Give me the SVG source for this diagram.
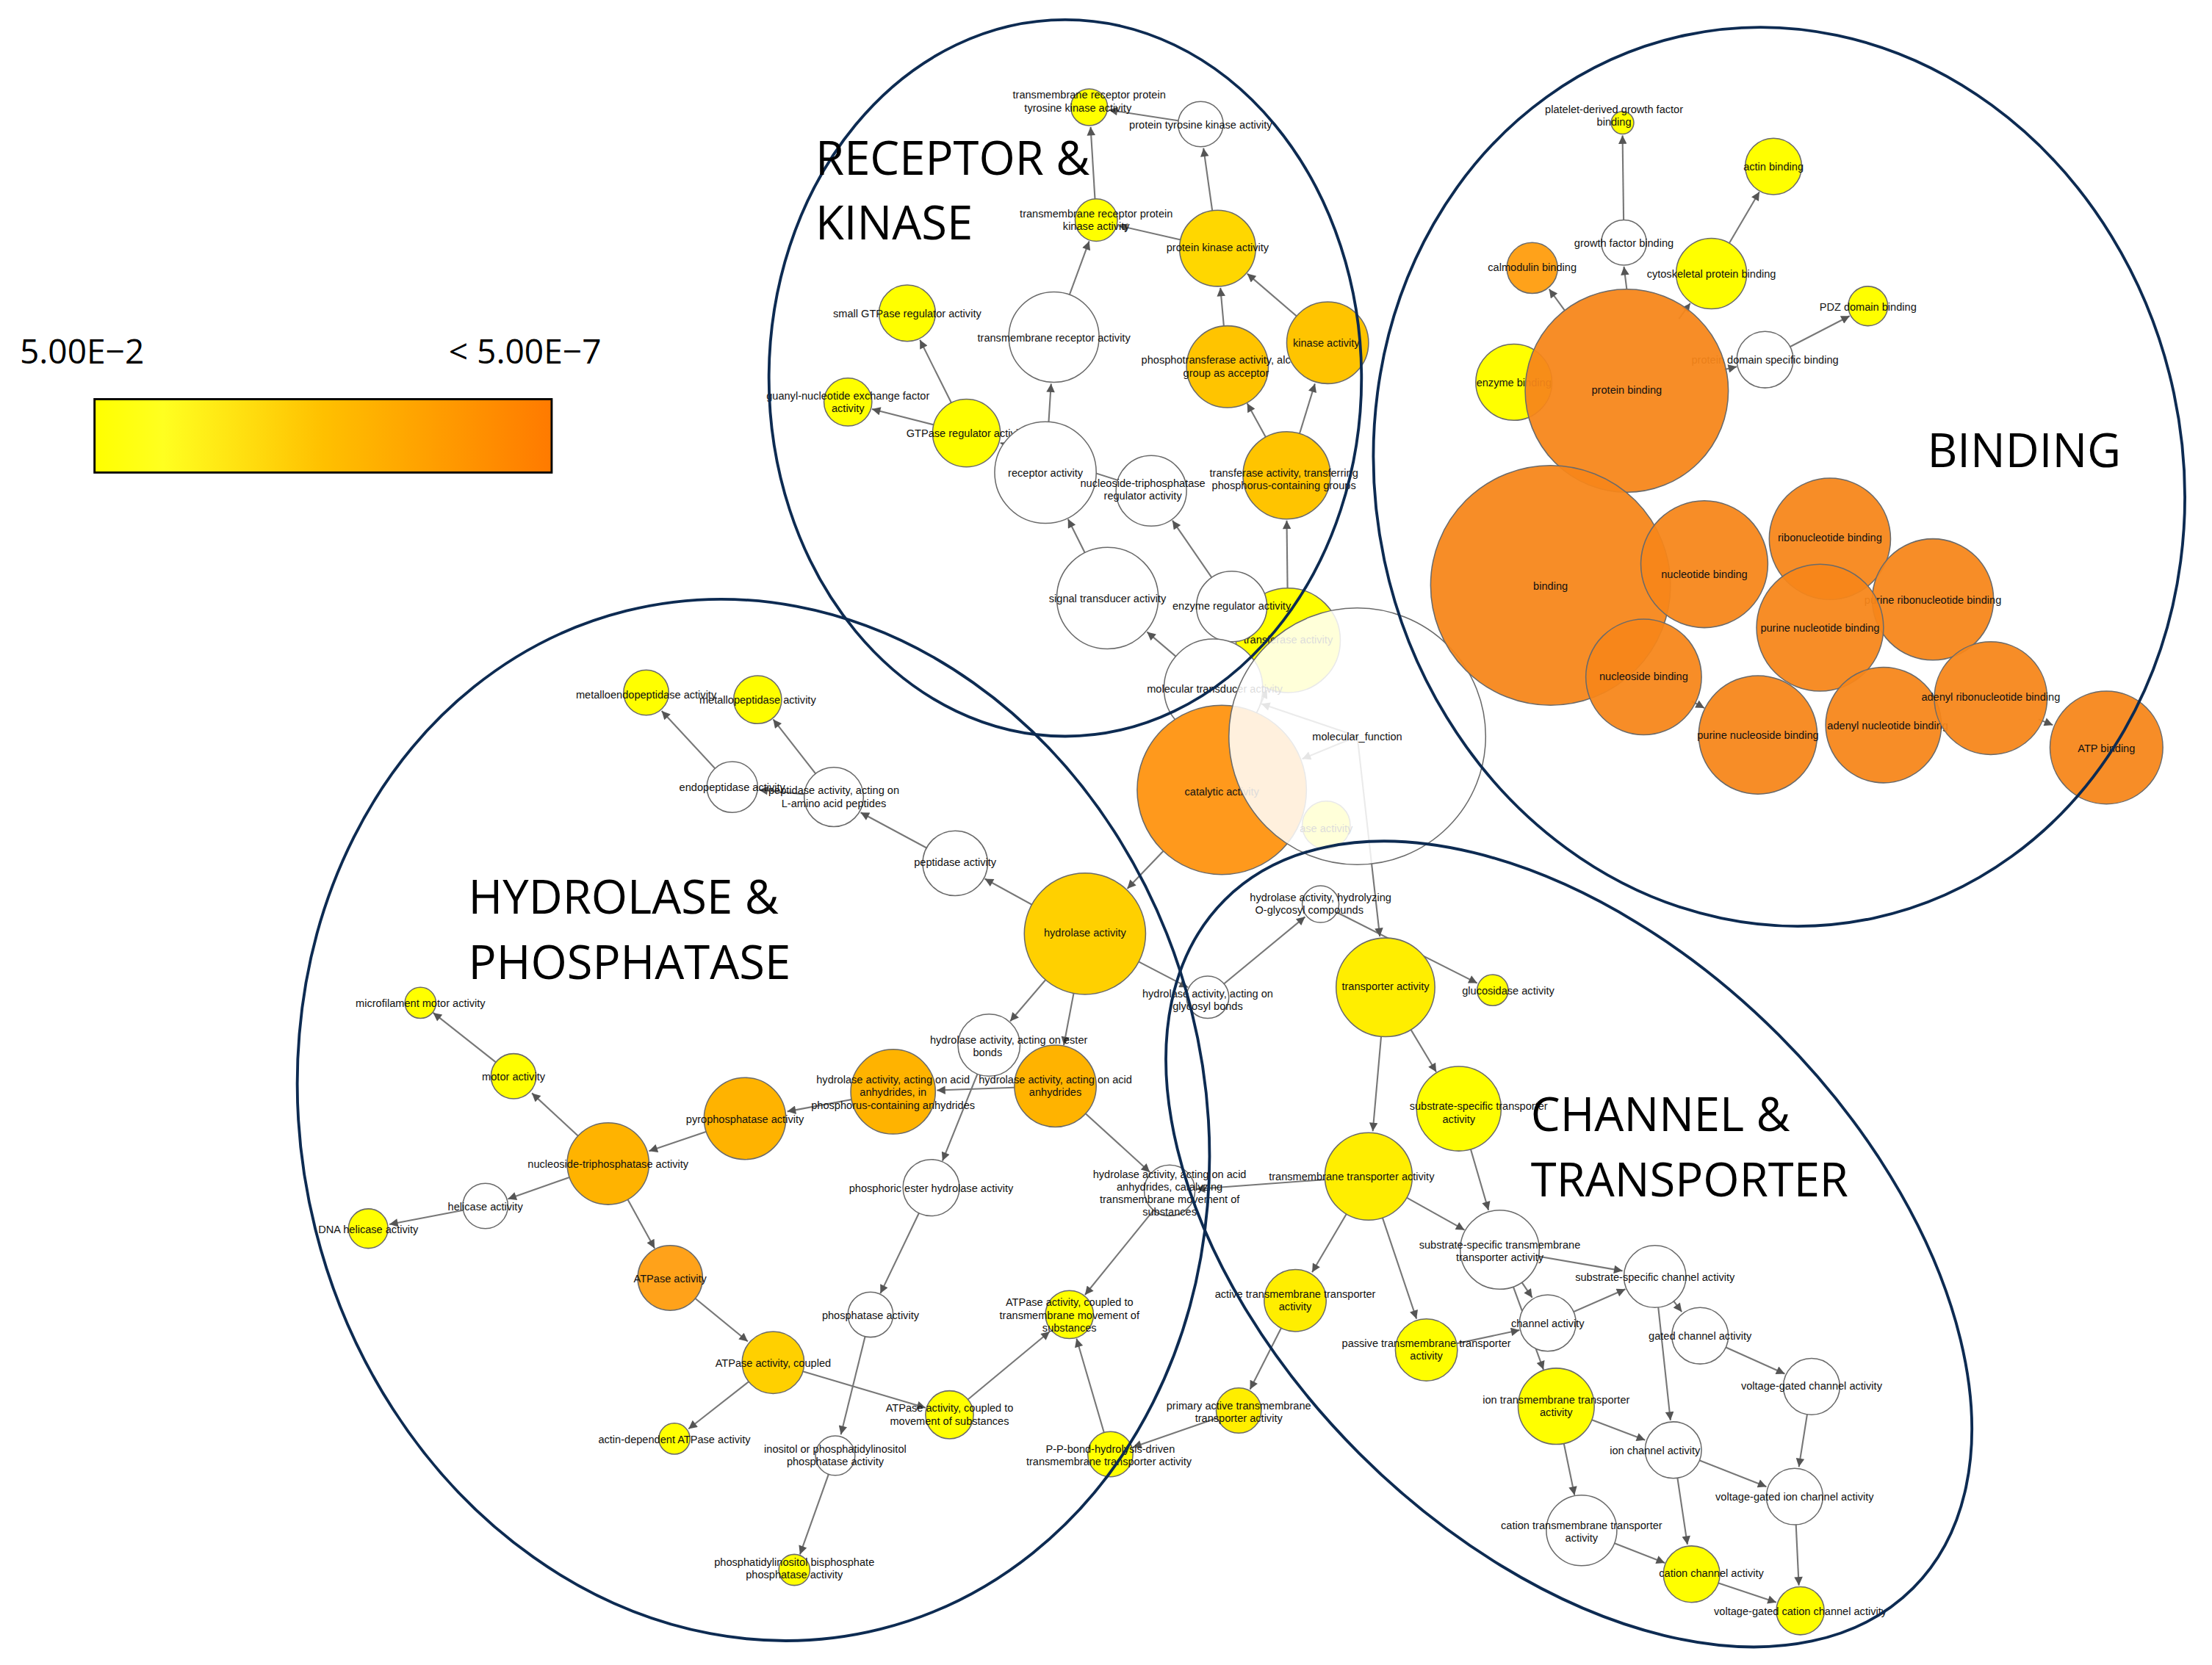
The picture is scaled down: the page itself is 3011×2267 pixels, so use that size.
<svg xmlns="http://www.w3.org/2000/svg" width="3011" height="2267" viewBox="0 0 3011 2267">
<defs>
<linearGradient id="lg" x1="0" x2="1" y1="0" y2="0"><stop offset="0" stop-color="#ffff00"/><stop offset="0.15" stop-color="#ffff20"/><stop offset="0.5" stop-color="#ffc000"/><stop offset="1" stop-color="#ff7a00"/></linearGradient>
<marker id="ar" viewBox="0 0 10 10" refX="10" refY="5" markerUnits="userSpaceOnUse" markerWidth="8" markerHeight="6" orient="auto"><path d="M0,0L10,5L0,10z" fill="#555"/></marker>
</defs>
<style>
.e line{stroke:#777;stroke-width:1.1;marker-end:url(#ar)}
circle{stroke:#6a6a6a;stroke-width:0.8}
.w{fill:#fff}.y{fill:#ffff00}.g{fill:#ffd700}.o1{fill:#ffc400}.o2{fill:#ffb300}.o3{fill:#ffa21a}.c{fill:#ff991c}.b{fill:#f7861a;fill-opacity:0.94}
text{font-family:"Liberation Sans",Arial,sans-serif}
.l{font-size:7.6px;text-anchor:middle;fill:#111}
.t{font-family:"Open Sans","Liberation Sans",sans-serif;font-size:33px;fill:#000}
.grp{fill:none;stroke:#0d2b52;stroke-width:2}
</style>
<rect width="3011" height="2267" fill="#fff"/>
<g transform="scale(1.9205)">
<g id="legend">
<text x="14" y="258" style="font-family:'Open Sans','Liberation Sans',sans-serif;font-size:24px">5.00E−2</text>
<text x="318" y="258" style="font-family:'Open Sans','Liberation Sans',sans-serif;font-size:24px">&lt; 5.00E−7</text>
<rect x="67" y="283" width="324" height="52" fill="url(#lg)" stroke="#000" stroke-width="1.5"/>
</g>
<g id="connectors" class="e">
<line x1="860" y1="488" x2="813" y2="448"/><line x1="785" y1="424" x2="757" y2="368"/><line x1="741" y1="335" x2="745" y2="272"/>
<line x1="747" y1="239" x2="772" y2="171"/><line x1="777" y1="156" x2="773" y2="90"/><line x1="863" y1="176" x2="793" y2="160"/>
<line x1="863" y1="176" x2="853" y2="105"/><line x1="851" y1="88" x2="786" y2="78"/><line x1="870" y1="260" x2="865" y2="204"/>
<line x1="941" y1="243" x2="884" y2="194"/><line x1="912" y1="337" x2="884" y2="286"/><line x1="912" y1="337" x2="932" y2="272"/>
<line x1="913" y1="454" x2="912" y2="369"/><line x1="873" y1="430" x2="831" y2="369"/><line x1="816" y1="348" x2="709" y2="314"/>
<line x1="685" y1="307" x2="652" y2="241"/><line x1="685" y1="307" x2="618" y2="290"/><line x1="962" y1="522" x2="894" y2="499"/>
<line x1="866" y1="560" x2="898" y2="489"/><line x1="962" y1="522" x2="923" y2="538"/>
<line x1="866" y1="560" x2="799" y2="630"/><line x1="769" y1="662" x2="698" y2="623"/><line x1="677" y1="612" x2="610" y2="576"/>
<line x1="591" y1="565" x2="548" y2="510"/><line x1="591" y1="565" x2="538" y2="560"/><line x1="519" y1="558" x2="469" y2="504"/>
<line x1="769" y1="662" x2="716" y2="724"/><line x1="769" y1="662" x2="754" y2="741"/><line x1="769" y1="662" x2="842" y2="700"/>
<line x1="856" y1="707" x2="925" y2="650"/><line x1="936" y1="641" x2="1047" y2="697"/><line x1="962" y1="522" x2="978" y2="664"/>
<line x1="748" y1="770" x2="664" y2="773"/><line x1="633" y1="774" x2="558" y2="788"/><line x1="528" y1="793" x2="460" y2="816"/>
<line x1="431" y1="825" x2="377" y2="775"/><line x1="364" y1="763" x2="307" y2="718"/><line x1="431" y1="825" x2="360" y2="850"/>
<line x1="344" y1="855" x2="276" y2="868"/><line x1="431" y1="825" x2="464" y2="885"/><line x1="475" y1="906" x2="530" y2="951"/>
<line x1="548" y1="966" x2="488" y2="1013"/><line x1="548" y1="966" x2="656" y2="998"/><line x1="673" y1="1003" x2="744" y2="944"/>
<line x1="787" y1="1031" x2="763" y2="949"/><line x1="829" y1="844" x2="769" y2="918"/><line x1="748" y1="770" x2="815" y2="831"/>
<line x1="970" y1="834" x2="848" y2="843"/><line x1="701" y1="741" x2="668" y2="823"/><line x1="660" y1="842" x2="624" y2="917"/>
<line x1="617" y1="932" x2="596" y2="1017"/><line x1="592" y1="1032" x2="567" y2="1102"/><line x1="878" y1="1000" x2="803" y2="1026"/>
<line x1="918" y1="922" x2="886" y2="985"/>
<line x1="982" y1="700" x2="1018" y2="760"/><line x1="982" y1="700" x2="973" y2="802"/><line x1="1034" y1="786" x2="1055" y2="858"/>
<line x1="970" y1="834" x2="1038" y2="872"/><line x1="970" y1="834" x2="930" y2="902"/><line x1="970" y1="834" x2="1004" y2="935"/>
<line x1="1063" y1="886" x2="1150" y2="901"/><line x1="1063" y1="886" x2="1086" y2="920"/><line x1="1063" y1="886" x2="1094" y2="971"/>
<line x1="1011" y1="957" x2="1077" y2="943"/><line x1="1097" y1="938" x2="1152" y2="914"/><line x1="1173" y1="905" x2="1192" y2="930"/>
<line x1="1205" y1="947" x2="1265" y2="974"/><line x1="1173" y1="905" x2="1184" y2="1007"/><line x1="1103" y1="997" x2="1166" y2="1021"/>
<line x1="1284" y1="983" x2="1275" y2="1040"/><line x1="1186" y1="1028" x2="1252" y2="1054"/><line x1="1103" y1="997" x2="1116" y2="1060"/>
<line x1="1186" y1="1028" x2="1196" y2="1095"/><line x1="1121" y1="1085" x2="1180" y2="1108"/><line x1="1272" y1="1061" x2="1275" y2="1124"/>
<line x1="1199" y1="1116" x2="1259" y2="1136"/>
<line x1="1109" y1="220" x2="1098" y2="205"/><line x1="1153" y1="205" x2="1151" y2="189"/><line x1="1151" y1="172" x2="1150" y2="96"/>
<line x1="1190" y1="226" x2="1198" y2="215"/><line x1="1213" y1="194" x2="1247" y2="136"/><line x1="1222" y1="262" x2="1231" y2="260"/>
<line x1="1251" y1="255" x2="1311" y2="224"/><line x1="1445" y1="510" x2="1455" y2="514"/><line x1="1199" y1="497" x2="1208" y2="502"/>
</g>
<g id="n-tmrptk"><circle class="y" cx="772" cy="76" r="13"/><text class="l" x="772" y="70">transmembrane receptor protein<tspan x="764" dy="9">tyrosine kinase activity</tspan></text></g>
<g id="n-ptk"><circle class="w" cx="851" cy="88" r="16"/><text class="l" x="851" y="91">protein tyrosine kinase activity</text></g>
<g id="n-tmrpk"><circle class="y" cx="777" cy="156" r="15"/><text class="l" x="777" y="154">transmembrane receptor protein<tspan x="777" dy="9">kinase activity</tspan></text></g>
<g id="n-pk"><circle class="g" cx="863" cy="176" r="27"/><text class="l" x="863" y="178">protein kinase activity</text></g>
<g id="n-sgtp"><circle class="y" cx="643" cy="222" r="20"/><text class="l" x="643" y="225">small GTPase regulator activity</text></g>
<g id="n-tmr"><circle class="w" cx="747" cy="239" r="32"/><text class="l" x="747" y="242">transmembrane receptor activity</text></g>
<g id="n-pt"><circle class="o1" cx="870" cy="260" r="29"/><text class="l" x="869" y="258">phosphotransferase activity, alcohol<tspan x="869" dy="9">group as acceptor</tspan></text></g>
<g id="n-kin"><circle class="o1" cx="941" cy="243" r="29"/><text class="l" x="940" y="246">kinase activity</text></g>
<g id="n-gnef"><circle class="y" cx="601" cy="285" r="17"/><text class="l" x="601" y="283">guanyl-nucleotide exchange factor<tspan x="601" dy="9">activity</tspan></text></g>
<g id="n-gtpr"><circle class="y" cx="685" cy="307" r="24"/><text class="l" x="685" y="310">GTPase regulator activity</text></g>
<g id="n-rec"><circle class="w" cx="741" cy="335" r="36"/><text class="l" x="741" y="338">receptor activity</text></g>
<g id="n-ntpr"><circle class="w" cx="816" cy="348" r="25"/><text class="l" x="810" y="345">nucleoside-triphosphatase<tspan x="810" dy="9">regulator activity</tspan></text></g>
<g id="n-trP"><circle class="o1" cx="912" cy="337" r="31"/><text class="l" x="910" y="338">transferase activity, transferring<tspan x="910" dy="9">phosphorus-containing groups</tspan></text></g>
<g id="n-st"><circle class="w" cx="785" cy="424" r="36"/><text class="l" x="785" y="427">signal transducer activity</text></g>
<g id="n-tr"><circle class="y" cx="913" cy="454" r="37"/><text class="l" x="913" y="456">transferase activity</text></g>
<g id="n-er"><circle class="w" cx="873" cy="430" r="25"/><text class="l" x="873" y="432">enzyme regulator activity</text></g>
<g id="n-mt"><circle class="w" cx="860" cy="488" r="35"/><text class="l" x="861" y="491">molecular transducer activity</text></g>
<g id="n-cat"><circle class="c" cx="866" cy="560" r="60"/><text class="l" x="866" y="564">catalytic activity</text></g>
<g id="n-ase"><circle class="y" cx="940" cy="585" r="17"/><text class="l" x="940" y="590">ase activity</text></g>
<g id="n-mf"><circle cx="962" cy="522" r="91" fill="#fff" fill-opacity="0.85"/><text class="l" x="962" y="525">molecular_function</text></g>
<g id="n-pdg"><circle class="y" cx="1150" cy="87" r="8"/><text class="l" x="1144" y="80">platelet-derived growth factor<tspan x="1144" dy="9">binding</tspan></text></g>
<g id="n-act2"><circle class="y" cx="1257" cy="118" r="20"/><text class="l" x="1257" y="121">actin binding</text></g>
<g id="n-gfb"><circle class="w" cx="1151" cy="172" r="16"/><text class="l" x="1151" y="175">growth factor binding</text></g>
<g id="n-csk"><circle class="y" cx="1213" cy="194" r="25"/><text class="l" x="1213" y="197">cytoskeletal protein binding</text></g>
<g id="n-cal"><circle class="o3" cx="1086" cy="190" r="18"/><text class="l" x="1086" y="192">calmodulin binding</text></g>
<g id="n-pdz"><circle class="y" cx="1324" cy="217" r="14"/><text class="l" x="1324" y="220">PDZ domain binding</text></g>
<g id="n-enz"><circle class="y" cx="1073" cy="271" r="27"/><text class="l" x="1073" y="274">enzyme binding</text></g>
<g id="n-pds"><circle class="w" cx="1251" cy="255" r="20"/><text class="l" x="1251" y="258">protein domain specific binding</text></g>
<g id="n-pb"><circle class="b" cx="1153" cy="277" r="72"/><text class="l" x="1153" y="279">protein binding</text></g>
<g id="n-bind"><circle class="b" cx="1099" cy="415" r="85"/><text class="l" x="1099" y="418">binding</text></g>
<g id="n-nuc"><circle class="b" cx="1208" cy="400" r="45"/><text class="l" x="1208" y="410">nucleotide binding</text></g>
<g id="n-rib"><circle class="b" cx="1297" cy="382" r="43"/><text class="l" x="1297" y="384">ribonucleotide binding</text></g>
<g id="n-pr"><circle class="b" cx="1370" cy="425" r="43"/><text class="l" x="1370" y="428">purine ribonucleotide binding</text></g>
<g id="n-pn"><circle class="b" cx="1290" cy="445" r="45"/><text class="l" x="1290" y="448">purine nucleotide binding</text></g>
<g id="n-ns"><circle class="b" cx="1165" cy="480" r="41"/><text class="l" x="1165" y="482">nucleoside binding</text></g>
<g id="n-pns"><circle class="b" cx="1246" cy="521" r="42"/><text class="l" x="1246" y="524">purine nucleoside binding</text></g>
<g id="n-an"><circle class="b" cx="1335" cy="514" r="41"/><text class="l" x="1338" y="517">adenyl nucleotide binding</text></g>
<g id="n-ar"><circle class="b" cx="1411" cy="495" r="40"/><text class="l" x="1411" y="497">adenyl ribonucleotide binding</text></g>
<g id="n-atpb"><circle class="b" cx="1493" cy="530" r="40"/><text class="l" x="1493" y="533">ATP binding</text></g>
<g id="n-mendo"><circle class="y" cx="458" cy="491" r="16"/><text class="l" x="458" y="495">metalloendopeptidase activity</text></g>
<g id="n-mpep"><circle class="y" cx="537" cy="496" r="17"/><text class="l" x="537" y="499">metallopeptidase activity</text></g>
<g id="n-endo"><circle class="w" cx="519" cy="558" r="18"/><text class="l" x="519" y="561">endopeptidase activity</text></g>
<g id="n-pepL"><circle class="w" cx="591" cy="565" r="21"/><text class="l" x="591" y="563">peptidase activity, acting on<tspan x="591" dy="9">L-amino acid peptides</tspan></text></g>
<g id="n-pep"><circle class="w" cx="677" cy="612" r="23"/><text class="l" x="677" y="614">peptidase activity</text></g>
<g id="n-hyd"><circle class="g" cx="769" cy="662" r="43" style="fill:#ffd000"/><text class="l" x="769" y="664">hydrolase activity</text></g>
<g id="n-mfm"><circle class="y" cx="298" cy="711" r="11"/><text class="l" x="298" y="714">microfilament motor activity</text></g>
<g id="n-motor"><circle class="y" cx="364" cy="763" r="16"/><text class="l" x="364" y="766">motor activity</text></g>
<g id="n-ester"><circle class="w" cx="701" cy="741" r="22"/><text class="l" x="715" y="740">hydrolase activity, acting on ester<tspan x="700" dy="9">bonds</tspan></text></g>
<g id="n-pcont"><circle class="o2" cx="633" cy="774" r="30"/><text class="l" x="633" y="768">hydrolase activity, acting on acid<tspan x="633" dy="9">anhydrides, in</tspan><tspan x="633" dy="9">phosphorus-containing anhydrides</tspan></text></g>
<g id="n-acid"><circle class="o2" cx="748" cy="770" r="29"/><text class="l" x="748" y="768">hydrolase activity, acting on acid<tspan x="748" dy="9">anhydrides</tspan></text></g>
<g id="n-pyro"><circle class="o2" cx="528" cy="793" r="29"/><text class="l" x="528" y="796">pyrophosphatase activity</text></g>
<g id="n-ntp"><circle class="o2" cx="431" cy="825" r="29"/><text class="l" x="431" y="828">nucleoside-triphosphatase activity</text></g>
<g id="n-hel"><circle class="w" cx="344" cy="855" r="16"/><text class="l" x="344" y="858">helicase activity</text></g>
<g id="n-dnah"><circle class="y" cx="261" cy="871" r="14"/><text class="l" x="261" y="874">DNA helicase activity</text></g>
<g id="n-phe"><circle class="w" cx="660" cy="842" r="20"/><text class="l" x="660" y="845">phosphoric ester hydrolase activity</text></g>
<g id="n-atp"><circle class="o3" cx="475" cy="906" r="23"/><text class="l" x="475" y="909">ATPase activity</text></g>
<g id="n-cattm"><circle class="w" cx="829" cy="844" r="18"/><text class="l" x="829" y="835">hydrolase activity, acting on acid<tspan x="829" dy="9">anhydrides, catalyzing</tspan><tspan x="829" dy="9">transmembrane movement of</tspan><tspan x="829" dy="9">substances</tspan></text></g>
<g id="n-phos"><circle class="w" cx="617" cy="932" r="16"/><text class="l" x="617" y="935">phosphatase activity</text></g>
<g id="n-atptm"><circle class="y" cx="758" cy="932" r="17"/><text class="l" x="758" y="926">ATPase activity, coupled to<tspan x="758" dy="9">transmembrane movement of</tspan><tspan x="758" dy="9">substances</tspan></text></g>
<g id="n-atpc"><circle class="g" cx="548" cy="966" r="22" style="fill:#ffd000"/><text class="l" x="548" y="969">ATPase activity, coupled</text></g>
<g id="n-atpcm"><circle class="y" cx="673" cy="1003" r="17"/><text class="l" x="673" y="1001">ATPase activity, coupled to<tspan x="673" dy="9">movement of substances</tspan></text></g>
<g id="n-actin"><circle class="y" cx="478" cy="1020" r="11"/><text class="l" x="478" y="1023">actin-dependent ATPase activity</text></g>
<g id="n-inos"><circle class="w" cx="592" cy="1032" r="14"/><text class="l" x="592" y="1030">inositol or phosphatidylinositol<tspan x="592" dy="9">phosphatase activity</tspan></text></g>
<g id="n-ppb"><circle class="y" cx="787" cy="1031" r="16"/><text class="l" x="787" y="1030">P-P-bond-hydrolysis-driven<tspan x="786" dy="9">transmembrane transporter activity</tspan></text></g>
<g id="n-bis"><circle class="y" cx="563" cy="1113" r="11"/><text class="l" x="563" y="1110">phosphatidylinositol bisphosphate<tspan x="563" dy="9">phosphatase activity</tspan></text></g>
<g id="n-oglyc"><circle class="w" cx="936" cy="641" r="13"/><text class="l" x="936" y="639">hydrolase activity, hydrolyzing<tspan x="928" dy="9">O-glycosyl compounds</tspan></text></g>
<g id="n-glyc"><circle class="w" cx="856" cy="707" r="15"/><text class="l" x="856" y="707">hydrolase activity, acting on<tspan x="856" dy="9">glycosyl bonds</tspan></text></g>
<g id="n-tp"><circle class="y" cx="982" cy="700" r="35" style="fill:#ffee00"/><text class="l" x="982" y="702">transporter activity</text></g>
<g id="n-gluc"><circle class="y" cx="1058" cy="702" r="11"/><text class="l" x="1069" y="705">glucosidase activity</text></g>
<g id="n-sst"><circle class="y" cx="1034" cy="786" r="30"/><text class="l" x="1048" y="787">substrate-specific transporter<tspan x="1034" dy="9">activity</tspan></text></g>
<g id="n-tmt"><circle class="y" cx="970" cy="834" r="31" style="fill:#ffee00"/><text class="l" x="958" y="837">transmembrane transporter activity</text></g>
<g id="n-sstm"><circle class="w" cx="1063" cy="886" r="28"/><text class="l" x="1063" y="885">substrate-specific transmembrane<tspan x="1063" dy="9">transporter activity</tspan></text></g>
<g id="n-ssch"><circle class="w" cx="1173" cy="905" r="22"/><text class="l" x="1173" y="908">substrate-specific channel activity</text></g>
<g id="n-act"><circle class="y" cx="918" cy="922" r="22" style="fill:#ffee00"/><text class="l" x="918" y="920">active transmembrane transporter<tspan x="918" dy="9">activity</tspan></text></g>
<g id="n-ch"><circle class="w" cx="1097" cy="938" r="20"/><text class="l" x="1097" y="941">channel activity</text></g>
<g id="n-gch"><circle class="w" cx="1205" cy="947" r="20"/><text class="l" x="1205" y="950">gated channel activity</text></g>
<g id="n-pas"><circle class="y" cx="1011" cy="957" r="22"/><text class="l" x="1011" y="955">passive transmembrane transporter<tspan x="1011" dy="9">activity</tspan></text></g>
<g id="n-vgc"><circle class="w" cx="1284" cy="983" r="20"/><text class="l" x="1284" y="985">voltage-gated channel activity</text></g>
<g id="n-iontm"><circle class="y" cx="1103" cy="997" r="27"/><text class="l" x="1103" y="995">ion transmembrane transporter<tspan x="1103" dy="9">activity</tspan></text></g>
<g id="n-prim"><circle class="y" cx="878" cy="1000" r="16" style="fill:#ffee00"/><text class="l" x="878" y="999">primary active transmembrane<tspan x="878" dy="9">transporter activity</tspan></text></g>
<g id="n-ionch"><circle class="w" cx="1186" cy="1028" r="20"/><text class="l" x="1173" y="1031">ion channel activity</text></g>
<g id="n-vgic"><circle class="w" cx="1272" cy="1061" r="20"/><text class="l" x="1272" y="1064">voltage-gated ion channel activity</text></g>
<g id="n-cattm2"><circle class="w" cx="1121" cy="1085" r="25"/><text class="l" x="1121" y="1084">cation transmembrane transporter<tspan x="1121" dy="9">activity</tspan></text></g>
<g id="n-catch"><circle class="y" cx="1199" cy="1116" r="20"/><text class="l" x="1213" y="1118">cation channel activity</text></g>
<g id="n-vgcc"><circle class="y" cx="1276" cy="1142" r="17"/><text class="l" x="1276" y="1145">voltage-gated cation channel activity</text></g>
<g id="groups">
<ellipse class="grp" cx="755" cy="268" rx="210" ry="254"/>
<ellipse class="grp" cx="1261" cy="338" rx="286" ry="320" transform="rotate(-12 1261 338)"/>
<ellipse class="grp" cx="534" cy="794" rx="320" ry="372" transform="rotate(-14 534 794)"/>
<ellipse class="grp" cx="1112" cy="882" rx="345" ry="210" transform="rotate(45 1112 882)"/>
<text class="t" x="578" y="124">RECEPTOR &amp;</text><text class="t" x="578" y="170">KINASE</text>
<text class="t" x="1366" y="331">BINDING</text>
<text class="t" x="332" y="648">HYDROLASE &amp;</text><text class="t" x="332" y="694">PHOSPHATASE</text>
<text class="t" x="1085" y="802">CHANNEL &amp;</text><text class="t" x="1085" y="848">TRANSPORTER</text>
</g>
</g>
</svg>
